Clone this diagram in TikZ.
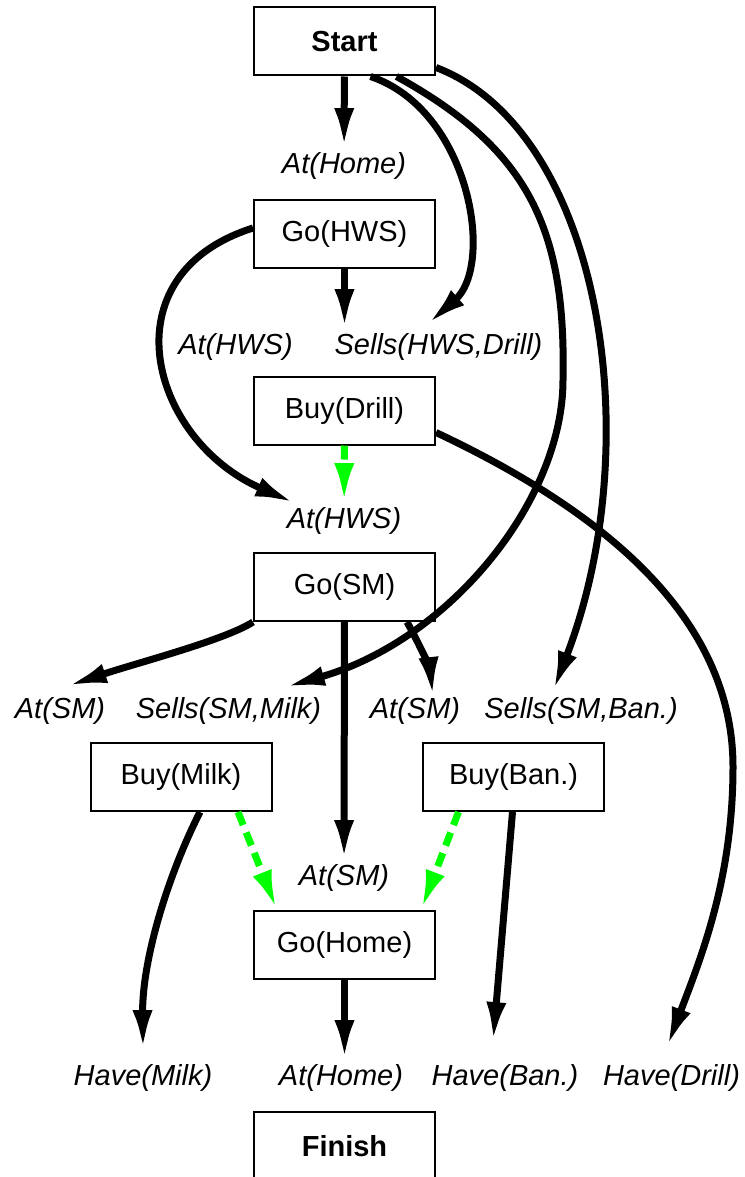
\documentclass[tikz,border=0pt]{standalone}
\usepackage{fontspec}
\setmainfont{Liberation Sans}
\usepackage{tikz}
\usetikzlibrary{calc,arrows.meta}

\begin{document}
\begin{tikzpicture}[x=0.5pt,y=-0.5pt]

    \tikzstyle{every node}=[font=\fontsize{14.5}{17}\selectfont]
    \tikzstyle{act}=[draw,line width=1pt,minimum width=90.5pt,minimum height=34pt,inner sep=0pt]
    \tikzstyle{cond}=[font=\fontsize{14.5}{17}\selectfont\itshape,inner sep=2pt]
    \tikzstyle{link}=[line width=3.5pt,-{Latex[length=20pt,width=10pt]}]
    \tikzstyle{order}=[link,green,dash pattern=on 7pt off 4pt]

    \path[use as bounding box,fill=white] (0,0) rectangle (744,1177);

    % actions
    \node[act,font=\fontsize{14.5}{17}\selectfont\bfseries] (start) at (344.5,41.5) {Start};
    \node[act] (gohws) at (344.5,234) {Go(HWS)};
    \node[act] (buydrill) at (344.5,410.5) {Buy(Drill)};
    \node[act] (gosm) at (344.5,587) {Go(SM)};
    \node[act] (buymilk) at (181,777) {Buy(Milk)};
    \node[act] (buyban) at (513.5,777) {Buy(Ban.)};
    \node[act] (gohome) at (344.5,945) {Go(Home)};
    \node[act,font=\fontsize{14.5}{17}\selectfont\bfseries] (finish) at (344.5,1146) {Finish};

    % conditions
    \node[cond] (athome) at (344,166) {At(Home)};
    \node[cond] (athws) at (235.5,347) {At(HWS)};
    \node[cond] (sellshd) at (438.5,347) {Sells(HWS,Drill)};
    \node[cond] (athwsb) at (344,521) {At(HWS)};
    \node[cond] (atsma) at (60,711) {At(SM)};
    \node[cond] (sellssmm) at (228.5,711) {Sells(SM,Milk)};
    \node[cond] (atsmb) at (415,711) {At(SM)};
    \node[cond] (sellssmb) at (581,711) {Sells(SM,Ban.)};
    \node[cond] (atsmc) at (344,878) {At(SM)};
    \node[cond] (havemilk) at (143,1078) {Have(Milk)};
    \node[cond] (athomeb) at (341,1078) {At(Home)};
    \node[cond] (haveban) at (505,1078) {Have(Ban.)};
    \node[cond] (havedrill) at (671.5,1078) {Have(Drill)};

    % causal links
    \draw[link] (start) -- (athome);
    \draw[link] (gohws) -- (gohws.south |- sellshd.north);
    \draw[link] ($(start.south)+(26,0)$) .. controls (470,110) and (495,265) .. ($(sellshd.north)+(-11,-5)$);
    \draw[link] ($(start.south)+(52,0)$) .. controls (530,150) and (566,230) .. (563,380)
                .. controls (563,500) and (450,640) .. ($(sellssmm.north)+(56.5,-6)$);
    \draw[link] ($(start.east)+(0,26)$) .. controls (600,130) and (650,440) .. ($(sellssmb.north)+(-28,-2)$);
    \draw[link] ($(gohws.west)+(0,-6)$) .. controls (105,275) and (150,440) .. ($(athwsb.north)+(-49,0)$);
    \draw[link] ($(buydrill.east)+(0,22)$) .. controls (590,505) and (733,610) .. (733,767)
                .. controls (733,880) and (700,960) .. ($(havedrill.north)+(-4.5,-13)$);
    \draw[link] (gosm.south west) .. controls (225,640) and (140,662) .. ($(atsma.north)+(7,-7)$);
    \draw[link] ($(gosm.south)+(62.5,0)$) .. controls (420,645) and (430,670) .. ($(atsmb.north)+(18,4)$);
    \draw[link] (gosm) -- (atsmc);
    \draw[link] ($(buymilk.south)+(19,0)$) .. controls (168,875) and (142,960) .. ($(havemilk.north)+(0,-10)$);
    \draw[link] ($(buyban.south)+(-1,0)$) -- ($(haveban.north)+(-12,-18)$);
    \draw[link] (gohome) -- (gohome.south |- athomeb.north);

    % ordering constraints
    \draw[order] (buydrill) -- (athwsb);
    \draw[order] ($(buymilk.south)+(57,0)$) -- ($(gohome.north west)+(24,0)$);
    \draw[order] ($(buyban.south)+(-55,0)$) -- ($(gohome.north east)+(-15,0)$);

\end{tikzpicture}
\end{document}
